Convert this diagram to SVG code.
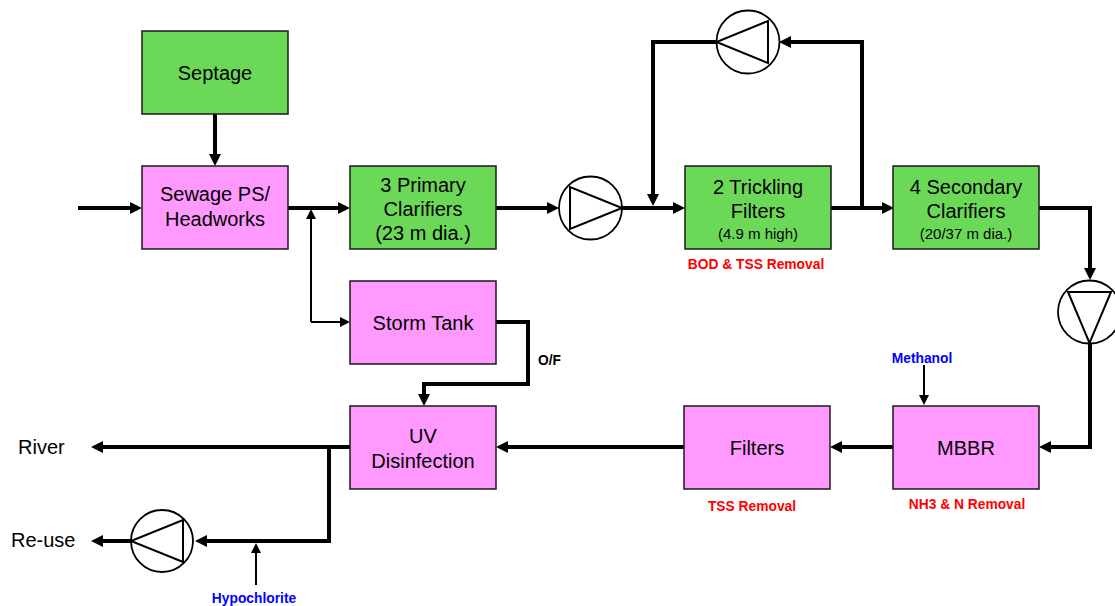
<svg xmlns="http://www.w3.org/2000/svg" width="1115" height="606" viewBox="0 0 1115 606">
<defs>
<style>
.box{stroke:#1a1a1a;stroke-width:1.5}
.pink{fill:#ff99ff}
.green{fill:#6bd957}
.t{font-family:"Liberation Sans",Arial,sans-serif;font-size:20px;fill:#000;text-anchor:middle}
.s{font-size:15px}
.lab{font-family:"Liberation Sans",Arial,sans-serif;font-size:13.8px;font-weight:bold;text-anchor:middle}
.red{fill:#ff0000}
.blue{fill:#0000ff}
.thick{fill:none;stroke:#000;stroke-width:4;marker-end:url(#ah)}
.thin{fill:none;stroke:#000;stroke-width:2;marker-end:url(#ahs)}
.pc{fill:#fff;stroke:#000;stroke-width:1.8}
.pt{fill:none;stroke:#000;stroke-width:2;stroke-linejoin:miter}
</style>
<marker id="ah" markerWidth="13" markerHeight="13" refX="4" refY="6" orient="auto" markerUnits="userSpaceOnUse"><path d="M0,0 L12,6 L0,12 z" fill="#000"/></marker>
<marker id="ahs" markerWidth="11" markerHeight="11" refX="4" refY="5" orient="auto" markerUnits="userSpaceOnUse"><path d="M0,0 L10,5 L0,10 z" fill="#000"/></marker>
</defs>
<rect width="1115" height="606" fill="#fff"/>

<g id="connectors">
<path class="thick" d="M78,208 H134"/>
<path class="thick" d="M215,113 V158"/>
<path class="thick" d="M288,208 H342"/>
<path class="thick" d="M496,208 H551"/>
<path class="thick" d="M622,208 H677"/>
<path class="thick" d="M831,208 H886"/>
<path class="thick" d="M862,208 V42 H787"/>
<path class="thick" d="M717,42 H653 V198"/>
<path class="thick" d="M1039,208 H1090 V272"/>
<path class="thick" d="M1090,343 V447 H1047"/>
<path class="thick" d="M893,447 H838"/>
<path class="thick" d="M684,447 H504"/>
<path class="thick" d="M350,447 H99"/>
<path class="thick" d="M329,447 V541 H203"/>
<path class="thick" d="M131,541 H99"/>
<path class="thick" d="M496,322 H528 V384 H424 V398"/>
<path class="thin" d="M311,322 V215"/>
<path class="thin" d="M311,322 H344"/>
<path class="thin" d="M256,585 V549"/>
<path class="thin" d="M924,365 V399"/>
</g>

<g id="septage">
<rect class="box green" x="142" y="31" width="146" height="83"/>
<text class="t" x="215" y="80">Septage</text>
</g>
<g id="sewage-ps">
<rect class="box pink" x="142" y="166" width="146" height="83"/>
<text class="t" x="215" y="201">Sewage PS/</text>
<text class="t" x="215" y="226">Headworks</text>
</g>
<g id="primary-clarifiers">
<rect class="box green" x="350" y="166" width="146" height="83"/>
<text class="t" x="423" y="192">3 Primary</text>
<text class="t" x="423" y="216">Clarifiers</text>
<text class="t" x="423" y="240">(23 m dia.)</text>
</g>
<g id="storm-tank">
<rect class="box pink" x="350" y="281" width="146" height="83"/>
<text class="t" x="423" y="330">Storm Tank</text>
</g>
<g id="uv">
<rect class="box pink" x="350" y="406" width="146" height="83"/>
<text class="t" x="423" y="443">UV</text>
<text class="t" x="423" y="468">Disinfection</text>
</g>
<g id="trickling-filters">
<rect class="box green" x="685" y="166" width="146" height="83"/>
<text class="t" x="758" y="194">2 Trickling</text>
<text class="t" x="758" y="218">Filters</text>
<text class="t s" x="758" y="239">(4.9 m high)</text>
<text class="lab red" x="756" y="269">BOD &amp; TSS Removal</text>
</g>
<g id="secondary-clarifiers">
<rect class="box green" x="893" y="166" width="146" height="83"/>
<text class="t" x="966" y="194">4 Secondary</text>
<text class="t" x="966" y="218">Clarifiers</text>
<text class="t s" x="966" y="239">(20/37 m dia.)</text>
</g>
<g id="filters">
<rect class="box pink" x="684" y="406" width="146" height="83"/>
<text class="t" x="757" y="455">Filters</text>
<text class="lab red" x="752" y="511">TSS Removal</text>
</g>
<g id="mbbr">
<rect class="box pink" x="893" y="406" width="146" height="83"/>
<text class="t" x="966" y="455">MBBR</text>
<text class="lab red" x="967" y="509">NH3 &amp; N Removal</text>
</g>
<g id="methanol">
<text class="lab blue" x="922" y="363">Methanol</text>
</g>
<g id="hypochlorite">
<text class="lab blue" x="254" y="603">Hypochlorite</text>
</g>
<g id="of-label">
<text class="lab" x="538" y="365" style="text-anchor:start">O/F</text>
</g>
<g id="river">
<text class="t" x="18" y="454" style="text-anchor:start">River</text>
</g>
<g id="reuse">
<text class="t" x="11" y="547" style="text-anchor:start">Re-use</text>
</g>

<g id="pump-1">
<circle class="pc" cx="590.5" cy="208" r="31.5"/>
<path class="pt" d="M570,187 L570,229 L622,208 Z"/>
</g>
<g id="pump-2">
<circle class="pc" cx="748" cy="42" r="31.5"/>
<path class="pt" d="M768,21 L768,63 L716.5,42 Z"/>
</g>
<g id="pump-3">
<circle class="pc" cx="1089.5" cy="312" r="31.5"/>
<path class="pt" d="M1068,292 L1111,292 L1089.5,343 Z"/>
</g>
<g id="pump-4">
<circle class="pc" cx="162" cy="541" r="31"/>
<path class="pt" d="M183,520 L183,562 L131,541 Z"/>
</g>
</svg>
